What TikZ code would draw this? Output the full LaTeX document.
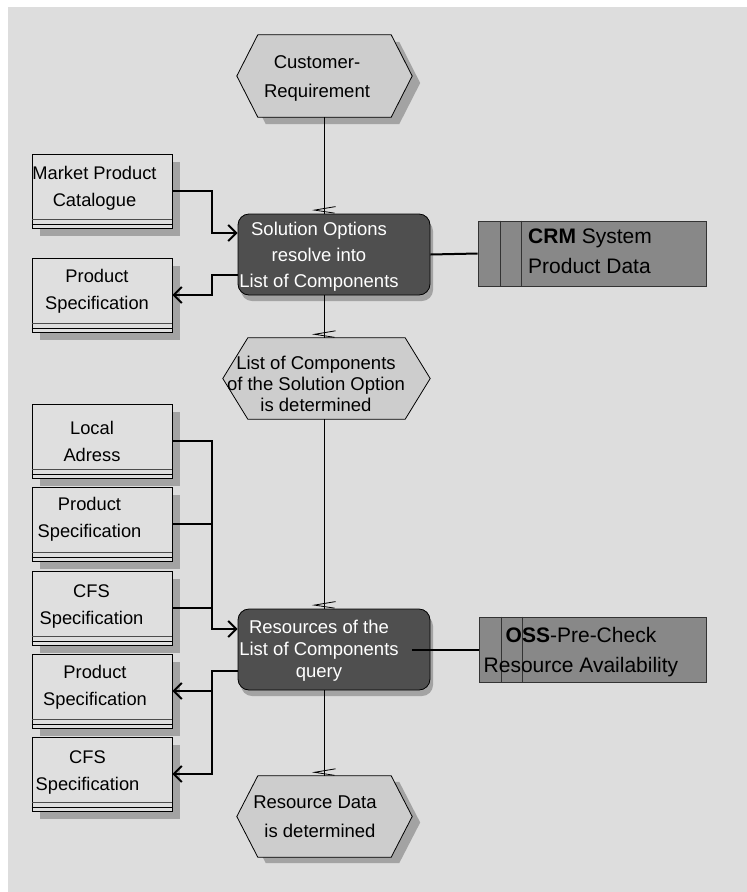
\documentclass[tikz,border=0pt]{standalone}
\usepackage{fontspec}
\setmainfont{Liberation Sans}
\usetikzlibrary{arrows.meta,shadows}

\definecolor{bgc}{HTML}{DDDDDD}
\definecolor{docc}{HTML}{DFDFDF}
\definecolor{evc}{HTML}{CDCDCD}
\definecolor{fnc}{HTML}{4F4F4F}
\definecolor{sysc}{HTML}{888888}
\definecolor{shc}{HTML}{A3A3A3}

\pgfdeclarelayer{back}
\pgfdeclarelayer{hexlayer}
\pgfsetlayers{back,hexlayer,main}

% hexagon round a node: node, tip length, x offset, y offset
\newcommand\hexoutline[4]{([xshift=#3,yshift=#4]#1.north west) -- ([xshift=#3,yshift=#4]#1.north east) -- ([xshift=#2+#3,yshift=#4]#1.east) -- ([xshift=#3,yshift=#4]#1.south east) -- ([xshift=#3,yshift=#4]#1.south west) -- ([xshift=-#2+#3,yshift=#4]#1.west) -- cycle}

% small connector mark just above the box a line enters
\newcommand\entrymark[1]{\draw[line width=0.8pt] ([xshift=11pt,yshift=7pt]#1) -- ([xshift=-10pt,yshift=3.5pt]#1) -- ([xshift=10pt,yshift=0.5pt]#1);}

\tikzset{
  evshape/.style={minimum width=133pt, minimum height=82pt, inner sep=0pt},
  evtext/.style={align=center, inner sep=0pt, font=\fontsize{18.5}{29}\selectfont},
  fnbox/.style={draw=black, line width=0.8pt, fill=fnc, rounded corners=11pt,
    minimum width=192pt, minimum height=81pt, inner sep=0pt,
    drop shadow={shadow xshift=3pt, shadow yshift=-6pt, fill=shc, opacity=1}},
  fntext/.style={align=center, inner sep=0pt, text=white},
  docbox/.style={draw=black, line width=0.8pt, fill=docc, minimum width=140pt,
    minimum height=74pt, inner sep=0pt,
    drop shadow={shadow xshift=8pt, shadow yshift=-8pt, fill=shc, opacity=1}},
  doctext/.style={align=center, inner sep=0pt, font=\fontsize{18.3}{27}\selectfont},
  sysbox/.style={draw=black!80, line width=0.8pt, fill=sysc, minimum width=228pt,
    minimum height=65pt, inner sep=0pt},
  systext/.style={inner sep=0pt, font=\fontsize{21}{30}\selectfont},
  conn/.style={line width=2pt},
  arr/.style={line width=2pt, -{Straight Barb[length=8pt,width=16pt]}},
  flow/.style={line width=1.3pt}
}

\begin{document}
\begin{tikzpicture}[x=1pt, y=-1pt]
\useasboundingbox (0,0) rectangle (747,892);
\begin{pgfonlayer}{back}
  \fill[bgc] (8,7) rectangle (747,892);
\end{pgfonlayer}

% events
\node[evshape] (cr) at (324.5,76) {};
\node[evtext] (crt) at (317,78) {Customer-\\Requirement};
\node[evshape, minimum width=157pt, minimum height=81pt] (ev2) at (326.5,378.5) {};
\node[evtext, font=\fontsize{18.5}{21}\selectfont] (ev2t) at (316,384) {List of Components\\of the Solution Option\\is determined};
\node[evshape, minimum height=81pt] (ev3) at (324.5,816.5) {};
\node[evtext] (ev3t) at (315,817) {Resource Data\\\hspace*{10pt}is determined};

\begin{pgfonlayer}{hexlayer}
  \fill[shc] \hexoutline{cr}{21pt}{8pt}{-7pt};
  \draw[line width=0.8pt, fill=evc] \hexoutline{cr}{21pt}{0pt}{0pt};
  \draw[line width=0.8pt, fill=evc] \hexoutline{ev2}{25pt}{0pt}{0pt};
  \fill[shc] \hexoutline{ev3}{21pt}{8pt}{-6pt};
  \draw[line width=0.8pt, fill=evc] \hexoutline{ev3}{21pt}{0pt}{0pt};
\end{pgfonlayer}

% functions
\node[fnbox] (f1) at (334,254.5) {};
\node[fntext, font=\fontsize{18.5}{26}\selectfont] (f1t) at (319,257) {Solution Options\\resolve into\\List of Components};
\node[fnbox] (f2) at (334,649.5) {};
\node[fntext, font=\fontsize{18.5}{22}\selectfont] (f2t) at (319,651) {Resources of the\\List of Components\\query};

% application systems
\node[sysbox] (crm) at (592,253.5) {};
\node[sysbox, minimum width=227pt] (oss) at (592.5,649.5) {};
\foreach \s in {crm,oss}{
  \draw[line width=0.8pt, draw=black!80] ([xshift=23pt]\s.north west) -- ([xshift=23pt]\s.south west);
  \draw[line width=0.8pt, draw=black!80] ([xshift=44pt]\s.north west) -- ([xshift=44pt]\s.south west);
}
\node[systext, align=left, anchor=west] (crmt) at (528,251.5) {\textbf{CRM} System\\Product Data};
\node[systext, align=center] (osst) at (581,652) {\textbf{OSS}-Pre-Check\\Resource Availability};

% information objects
\node[docbox] (mpc) at (102,191) {};
\node[docbox] (ps1) at (102,295) {};
\node[docbox] (la) at (102,441) {};
\node[docbox] (ps2) at (102,524) {};
\node[docbox] (cfs1) at (102,608) {};
\node[docbox] (ps3) at (102,691) {};
\node[docbox] (cfs2) at (102,774) {};
\foreach \d in {mpc,ps1,la,ps2,cfs1,ps3,cfs2}{
  \draw[line width=0.6pt, draw=black!70] ([yshift=9pt]\d.south west) -- ([yshift=9pt]\d.south east);
  \draw[line width=0.6pt] ([yshift=4.5pt]\d.south west) -- ([yshift=4.5pt]\d.south east);
}
\node[doctext] (mpct) at (94.5,188) {Market Product\\Catalogue};
\node[doctext] (ps1t) at (97,291) {Product\\Specification};
\node[doctext] (lat) at (92,441) {Local\\Adress};
\node[doctext] (ps2t) at (89.5,519.5) {Product\\Specification};
\node[doctext] (cfs1t) at (91.5,607) {CFS\\Specification};
\node[doctext] (ps3t) at (95,687.5) {Product\\Specification};
\node[doctext] (cfs2t) at (87.5,772.5) {CFS\\Specification};

% control flow
\draw[flow] (cr.south) -- (cr.south |- f1.north);
\entrymark{cr.south |- f1.north}
\draw[flow] (cr.south |- f1.south) -- (cr.south |- ev2.north);
\entrymark{cr.south |- ev2.north}
\draw[flow] (cr.south |- ev2.south) -- (cr.south |- f2.north);
\entrymark{cr.south |- f2.north}
\draw[flow] (cr.south |- f2.south) -- (cr.south |- ev3.north);
\entrymark{cr.south |- ev3.north}

% data flow
\draw[arr] (mpc.east) -- ++(40,0) |- ([yshift=21.5pt]f1.west);
\draw[arr] ([yshift=-20.5pt]f1.west) -- ++(-26,0) |- (ps1.east);
\draw[conn] (f1.east) -- (crm.west);

\draw[arr] (la.east) -- ++(40,0) |- ([yshift=20.5pt]f2.west);
\draw[conn] (ps2.east) -- ++(40,0);
\draw[conn] (cfs1.east) -- ++(40,0);
\draw[arr] ([yshift=-21pt]f2.west) -- ++(-26,0) |- (ps3.east);
\draw[arr] ([yshift=-21pt]f2.west) -- ++(-26,0) |- (cfs2.east);
\draw[conn] ([xshift=-18pt]f2.east) -- (oss.west);
\end{tikzpicture}
\end{document}
